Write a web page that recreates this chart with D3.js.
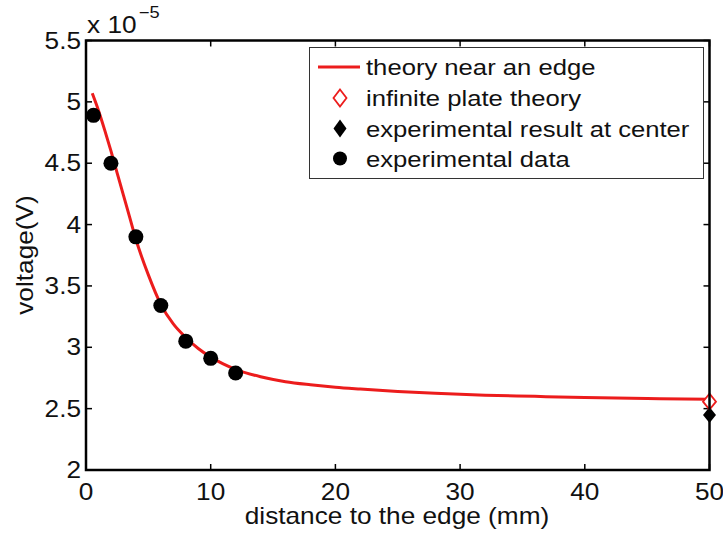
<!DOCTYPE html>
<html>
<head>
<meta charset="utf-8">
<script src="https://cdn.jsdelivr.net/npm/d3@7"></script>
<style>
  html, body { margin: 0; padding: 0; background: #fff; }
  svg { display: block; font-family: "Liberation Sans", Arial, sans-serif; }
</style>
</head>
<body>
<svg id="chart" width="723" height="533"></svg>
<script>
// Voltage values are in units of 1e-5 V
const theoryX = [0.5, 1, 1.5, 2, 2.5, 3, 3.5, 4, 5, 6, 7, 8, 9, 10, 11, 12, 14, 16, 18, 20, 22, 25, 28, 32, 36, 40, 45, 50];
const theoryY = [5.07, 4.93, 4.77, 4.60, 4.42, 4.24, 4.06, 3.88, 3.59, 3.35, 3.19, 3.08, 2.99, 2.92, 2.865, 2.82, 2.76, 2.72, 2.695, 2.675, 2.66, 2.64, 2.625, 2.61, 2.60, 2.59, 2.582, 2.576];

const expX = [0.6, 2, 4, 6, 8, 10, 12];
const expY = [4.89, 4.50, 3.90, 3.34, 3.05, 2.91, 2.79];

const infinitePlateX = [50];
const infinitePlateY = [2.557];

const centerX = [50];
const centerY = [2.448];

const xTicks = [0, 10, 20, 30, 40, 50];
const yTicks = [2, 2.5, 3, 3.5, 4, 4.5, 5, 5.5];

const legendLabels = ["theory near an edge", "infinite plate theory", "experimental result at center", "experimental data"];

const red = "#ec1c1c";
const svg = d3.select("#chart");

const x = d3.scaleLinear().domain([0, 50]).range([86, 709.5]);
const y = d3.scaleLinear().domain([2, 5.5]).range([470, 40.5]);

const fontSize = 23;
const stretch = 1.14; // wide glyph proportions of the figure font

// text placed at (px, py) and widened horizontally
function label(parent, px, py, str, anchor, size, rot) {
  return parent.append("text")
    .attr("transform", `translate(${px},${py})${rot ? ` rotate(${rot})` : ""} scale(${stretch},1)`)
    .attr("text-anchor", anchor).attr("font-size", size).attr("fill", "#111")
    .text(str);
}

// tick marks on all four sides, pointing inward
const tickLen = 6;
const ticks = svg.append("g").attr("stroke", "#000").attr("stroke-width", 1.5);
xTicks.forEach(t => {
  ticks.append("line").attr("x1", x(t)).attr("x2", x(t)).attr("y1", y(2)).attr("y2", y(2) - tickLen);
  ticks.append("line").attr("x1", x(t)).attr("x2", x(t)).attr("y1", y(5.5)).attr("y2", y(5.5) + tickLen);
});
yTicks.forEach(t => {
  ticks.append("line").attr("x1", x(0)).attr("x2", x(0) + tickLen).attr("y1", y(t)).attr("y2", y(t));
  ticks.append("line").attr("x1", x(50)).attr("x2", x(50) - tickLen).attr("y1", y(t)).attr("y2", y(t));
});

// tick labels
const xl = svg.append("g");
xTicks.forEach(t => label(xl, x(t), 500, t, "middle", fontSize));
const yl = svg.append("g");
yTicks.forEach(t => label(yl, 81, y(t) + 8, t, "end", fontSize));

// exponent marker above the y axis
const expo = label(svg, 87, 33, "", "start", fontSize);
expo.append("tspan").text("x 10");
expo.append("tspan").attr("dy", -15).attr("dx", 2).attr("font-size", 16).text("\u22125");

// axis titles
label(svg, 397, 524, "distance to the edge (mm)", "middle", fontSize);
label(svg, 33, 255, "voltage(V)", "middle", fontSize, -90);

// theory curve
const line = d3.line().x((d, i) => x(theoryX[i])).y(d => y(d)).curve(d3.curveMonotoneX);
svg.append("path").datum(theoryY)
  .attr("d", line)
  .attr("fill", "none").attr("stroke", red).attr("stroke-width", 3);

// experimental points
svg.append("g").selectAll("circle").data(expY).join("circle")
  .attr("cx", (d, i) => x(expX[i])).attr("cy", d => y(d)).attr("r", 7.5)
  .attr("fill", "#000");

const diamond = (cx, cy, w, h) => `M${cx},${cy - h}L${cx + w},${cy}L${cx},${cy + h}L${cx - w},${cy}Z`;

svg.append("g").selectAll("path").data(centerY).join("path")
  .attr("d", (d, i) => diamond(x(centerX[i]), y(d), 6.5, 8))
  .attr("fill", "#000");

svg.append("g").selectAll("path").data(infinitePlateY).join("path")
  .attr("d", (d, i) => diamond(x(infinitePlateX[i]), y(d), 6.5, 8))
  .attr("fill", "#fff").attr("stroke", red).attr("stroke-width", 1.8);

// plot frame
svg.append("rect")
  .attr("x", x(0)).attr("y", y(5.5))
  .attr("width", x(50) - x(0)).attr("height", y(2) - y(5.5))
  .attr("fill", "none").attr("stroke", "#000").attr("stroke-width", 2.5);

// legend
const lg = svg.append("g");
lg.append("rect").attr("x", 309.5).attr("y", 47.5).attr("width", 394).attr("height", 131)
  .attr("fill", "#fff").attr("stroke", "#333").attr("stroke-width", 1);
const rowY = [67, 98, 128.5, 158.5];
legendLabels.forEach((lab, i) => label(lg, 366, rowY[i] + 8, lab, "start", 22.5));
lg.append("line").attr("x1", 318).attr("x2", 360).attr("y1", rowY[0]).attr("y2", rowY[0])
  .attr("stroke", red).attr("stroke-width", 3);
lg.append("path").attr("d", diamond(340, rowY[1], 6.5, 8.5))
  .attr("fill", "#fff").attr("stroke", red).attr("stroke-width", 1.8);
lg.append("path").attr("d", diamond(340, rowY[2], 6.5, 9)).attr("fill", "#000");
lg.append("circle").attr("cx", 340).attr("cy", rowY[3]).attr("r", 7).attr("fill", "#000");
</script>
</body>
</html>
